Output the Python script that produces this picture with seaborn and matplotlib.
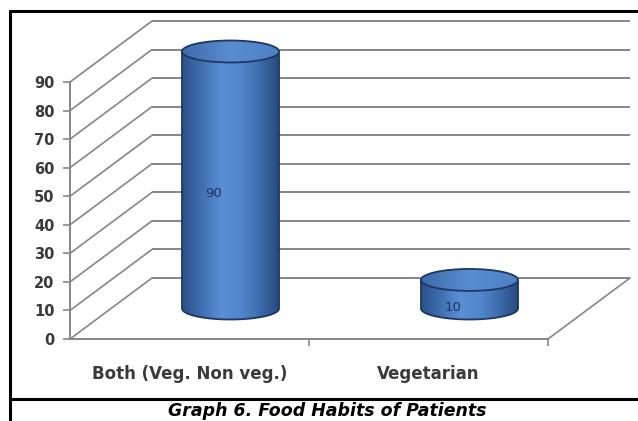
import numpy as np
import pandas as pd
import seaborn as sns
import matplotlib
matplotlib.use("Agg")
import matplotlib.pyplot as plt
from matplotlib.transforms import ScaledTranslation
from matplotlib.patches import Ellipse, PathPatch, ConnectionPatch
from matplotlib.path import Path
from matplotlib.colors import LinearSegmentedColormap
from matplotlib.lines import Line2D

# ---- data -------------------------------------------------------------
categories = ["Both (Veg. Non veg.)", "Vegetarian"]
percentages = [90, 10]
y_ticks = [0, 10, 20, 30, 40, 50, 60, 70, 80, 90]
caption = "Graph 6. Food Habits of Patients"

# ---- figure setup -----------------------------------------------------
W, H, DPI = 638, 421, 100
sns.set_theme(style="white")
plt.rcParams["font.family"] = ["DejaVu Sans"]

GRID = "#868686"
TEXT = "#3a3a3a"
EDGE = "#1c3863"

fig = plt.figure(figsize=(W / DPI, H / DPI), dpi=DPI)
fig.patch.set_facecolor("white")

# front plane of the 3-D box
ax = fig.add_axes([70 / W, 1 - 339 / H, 478 / W, 257 / H])
ax.set_facecolor("none")

df = pd.DataFrame({"habit": categories, "pct": percentages})
sns.barplot(data=df, x="habit", y="pct", width=0.406, color="#4a7ec4", ax=ax)
ax.set_xlim(-0.5, 1.5)
ax.set_ylim(0, 90)
ax.set_xlabel("")
ax.set_ylabel("")

# depth offsets (back wall and the plane through the cylinder axes)
DX, DY = 0.82, 0.61
back = ax.transData + ScaledTranslation(DX, DY, fig.dpi_scale_trans)
mid = ax.transData + ScaledTranslation(DX / 2, DY / 2, fig.dpi_scale_trans)

# back-wall grid lines
for v in y_ticks:
    ax.plot([-0.5, 1.5], [v, v], transform=back, color=GRID, lw=1.4,
            clip_on=False, zorder=1, solid_capstyle="butt")
    # side-wall diagonals
    ax.add_artist(ConnectionPatch((-0.5, v), (-0.5, v), coordsA=ax.transData,
                                  coordsB=back, color=GRID, lw=1.2, zorder=1))
# right edge of the floor
ax.add_artist(ConnectionPatch((1.5, 0), (1.5, 0), coordsA=ax.transData,
                              coordsB=back, color=GRID, lw=1.2, zorder=1))

# ---- cylinders --------------------------------------------------------
body_cmap = LinearSegmentedColormap.from_list(
    "body", ["#2b5289", "#3f6fb0", "#5a8fd6", "#5287cc", "#3d6cab", "#27497c"])
top_cmap = LinearSegmentedColormap.from_list(
    "top", ["#3c6aa9", "#5a8dd0", "#4c80c2"])
grad = np.linspace(0, 1, 256)[None, :]

B = 3.85  # vertical semi-axis of the end ellipses, in value units
for patch, v in zip(ax.patches, percentages):
    x0, w, h = patch.get_x(), patch.get_width(), patch.get_height()
    patch.set_visible(False)
    cx, a = x0 + w / 2, w / 2

    t = np.linspace(np.pi, 2 * np.pi, 80)
    verts = ([(cx - a, h), (cx - a, 0)]
             + [(cx + a * np.cos(tt), B * np.sin(tt)) for tt in t]
             + [(cx + a, h), (cx - a, h)])
    codes = [Path.MOVETO] + [Path.LINETO] * (len(verts) - 2) + [Path.CLOSEPOLY]
    silhouette = PathPatch(Path(verts, codes), transform=mid, facecolor="none",
                           edgecolor=EDGE, lw=1.3, zorder=4, clip_on=False)
    ax.add_patch(silhouette)
    img = ax.imshow(grad, cmap=body_cmap, aspect="auto",
                    extent=[cx - a, cx + a, -B, h], transform=mid,
                    zorder=3, interpolation="bilinear")
    img.set_clip_box(fig.bbox)
    img.set_clip_path(silhouette)

    top = Ellipse((cx, h), 2 * a, 2 * B, transform=mid, facecolor="none",
                  edgecolor=EDGE, lw=1.3, zorder=6, clip_on=False)
    ax.add_patch(top)
    timg = ax.imshow(grad, cmap=top_cmap, aspect="auto",
                     extent=[cx - a, cx + a, h - B, h + B], transform=mid,
                     zorder=5, interpolation="bilinear")
    timg.set_clip_box(fig.bbox)
    timg.set_clip_path(top)

    lbl = mid + ScaledTranslation(0, -0.135, fig.dpi_scale_trans)
    ax.text(cx - 0.071, h / 2, f"{v}", transform=lbl, ha="center", va="center",
            fontsize=9.5, color="#1e3358", zorder=7)

ax.set_xlim(-0.5, 1.5)
ax.set_ylim(0, 90)

# ---- axes styling -----------------------------------------------------
for side in ("top", "right"):
    ax.spines[side].set_visible(False)
for side in ("left", "bottom"):
    ax.spines[side].set_color(GRID)
    ax.spines[side].set_linewidth(1.4)
    ax.spines[side].set_zorder(2)

ax.set_yticks(y_ticks)
ax.tick_params(axis="y", direction="out", length=5, width=1.2, color=GRID,
               pad=6, labelsize=10.5, labelcolor=TEXT, left=True)
for t in ax.get_yticklabels():
    t.set_fontweight("bold")

ax.set_xticks([0, 1], labels=categories)
ax.set_xticks([0.5, 1.5], minor=True)
ax.tick_params(axis="x", which="major", length=0, pad=18.5,
               labelsize=12, labelcolor=TEXT)
ax.tick_params(axis="x", which="minor", direction="out", length=5,
               width=1.2, color=GRID, bottom=True)
for t in ax.get_xticklabels():
    t.set_fontweight("bold")

# ---- frame and caption ------------------------------------------------
def fx(x):
    return x / W


def fy(y):
    return 1 - y / H


for xs, ys in [([10, 10], [11, 421]), ([10, 638], [11, 11]),
               ([10, 638], [399, 399])]:
    fig.add_artist(Line2D([fx(x) for x in xs], [fy(y) for y in ys],
                          color="black", lw=2.2))

fig.text(fx(327), fy(411), caption, ha="center", va="center", fontsize=12.5,
         fontweight="bold", fontstyle="italic", color="black")

fig.savefig("out.png", dpi=DPI)
